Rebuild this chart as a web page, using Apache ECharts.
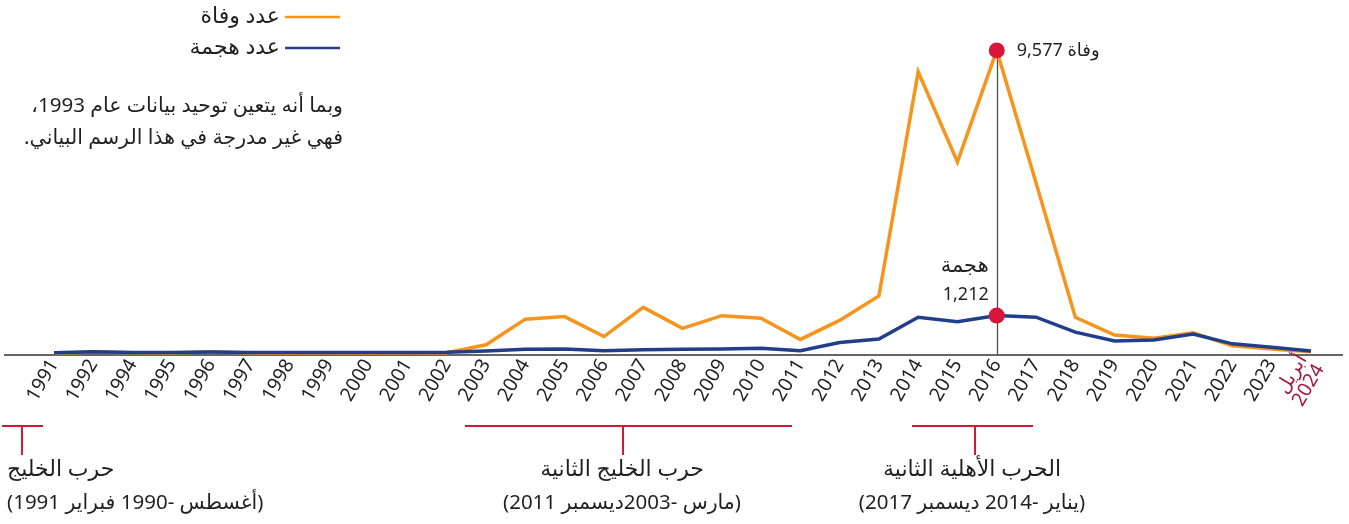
<!DOCTYPE html>
<html lang="ar">
<head>
<meta charset="utf-8">
<script src="https://cdn.jsdelivr.net/npm/echarts@6/dist/echarts.min.js"></script>
<style>
  html, body { margin: 0; padding: 0; background: #ffffff; }
  #chart { width: 1349px; height: 524px; }
</style>
</head>
<body>
<div id="chart" dir="rtl"></div>
<script>
// Years on the x axis (1993 is left out), last entry is the partial year
const categories = ['1991', '1992', '1994', '1995', '1996', '1997', '1998', '1999', '2000', '2001', '2002',
  '2003', '2004', '2005', '2006', '2007', '2008', '2009', '2010', '2011', '2012', '2013',
  '2014', '2015', '2016', '2017', '2018', '2019', '2020', '2021', '2022', '2023', 'أبريل\n2024'];

// Number of deaths per year
const deaths = [20, 60, 40, 30, 70, 30, 20, 30, 20, 30, 40,
  290, 1100, 1180, 550, 1470, 810, 1210, 1130, 460, 1060, 1830,
  8900, 6060, 9577, 5400, 1160, 600, 500, 670, 260, 160, 70];

// Number of attacks per year
const attacks = [40, 70, 50, 50, 60, 50, 50, 50, 50, 50, 55,
  95, 150, 160, 105, 135, 150, 160, 180, 105, 360, 470,
  1160, 1020, 1212, 1160, 690, 410, 440, 630, 320, 210, 95];

const seriesNames = ['عدد وفاة', 'عدد هجمة'];
const highlightYear = '2016';
const noteLines = ['وبما أنه يتعين توحيد بيانات عام 1993،', 'فهي غير مدرجة في هذا الرسم البياني.'];

const FONT = '"Noto Sans", "DejaVu Sans", sans-serif';
const TEXT = '#231f20';
const RED = '#d7163a';
const ORANGE = '#f7941d';
const NAVY = '#213e8a';

const hi = categories.indexOf(highlightYear);

const chart = echarts.init(document.getElementById('chart'), null, { renderer: 'canvas' });

function bracket(x1, x2, xm, title, sub, align, tx) {
  return {
    type: 'group',
    children: [
      { type: 'line', shape: { x1: x1, y1: 426, x2: x2, y2: 426 }, style: { stroke: RED, lineWidth: 2 } },
      { type: 'line', shape: { x1: xm, y1: 426, x2: xm, y2: 455 }, style: { stroke: RED, lineWidth: 2 } },
      { type: 'text', x: tx, y: 470, style: { text: title, fill: TEXT, font: '22px ' + FONT, textAlign: align, textVerticalAlign: 'middle' } },
      { type: 'text', x: tx, y: 503, style: { text: sub, fill: TEXT, font: '20.5px ' + FONT, textAlign: align, textVerticalAlign: 'middle' } }
    ]
  };
}

const option = {
  backgroundColor: '#ffffff',
  animation: false,
  textStyle: { fontFamily: FONT, color: TEXT },
  grid: { left: 54, right: 38, top: 37, bottom: 170, containLabel: false },
  legend: {
    orient: 'vertical',
    align: 'right',
    right: 1004,
    top: 1,
    icon: 'rect',
    itemWidth: 55,
    itemHeight: 2.5,
    itemGap: 9,
    data: seriesNames,
    textStyle: { fontSize: 22, color: TEXT, lineHeight: 22, fontFamily: FONT }
  },
  xAxis: {
    type: 'category',
    data: categories,
    boundaryGap: false,
    axisLine: { show: false },
    axisTick: { show: false },
    axisLabel: {
      interval: 0,
      rotate: 60,
      margin: 7,
      fontSize: 19.5,
      lineHeight: 20,
      fontFamily: FONT,
      color: function (value, index) {
        return index === categories.length - 1 ? '#a6193f' : TEXT;
      }
    },
    splitLine: { show: false }
  },
  yAxis: {
    type: 'value',
    min: 0,
    max: 10000,
    show: false,
    splitLine: { show: false }
  },
  series: [
    {
      name: seriesNames[0],
      type: 'line',
      data: deaths,
      showSymbol: false,
      lineStyle: { color: ORANGE, width: 3.5, join: 'miter' },
      itemStyle: { color: ORANGE },
      z: 2,
      markLine: {
        silent: true,
        symbol: 'none',
        label: { show: false },
        lineStyle: { color: '#4d4d4d', width: 1.3, type: 'solid' },
        data: [[{ coord: [hi, deaths[hi]] }, { coord: [hi, 0] }]],
        z: 1
      },
      markPoint: {
        symbol: 'circle',
        symbolSize: 16,
        itemStyle: { color: RED },
        label: {
          show: true,
          position: 'right',
          distance: 12,
          fontSize: 18,
          color: TEXT,
          fontFamily: FONT,
          formatter: function (p) { return 'وفاة ' + p.value.toLocaleString('en-US'); }
        },
        data: [{ coord: [hi, deaths[hi]], value: deaths[hi] }],
        z: 5
      }
    },
    {
      name: seriesNames[1],
      type: 'line',
      data: attacks,
      showSymbol: false,
      lineStyle: { color: NAVY, width: 3.5, join: 'miter' },
      itemStyle: { color: NAVY },
      z: 3,
      markPoint: {
        symbol: 'circle',
        symbolSize: 16,
        itemStyle: { color: RED },
        label: {
          show: true,
          position: [0, 2],
          align: 'right',
          verticalAlign: 'bottom',
          fontSize: 18,
          lineHeight: 29,
          color: TEXT,
          fontFamily: FONT,
          rich: {
            ar: { fontSize: 21, lineHeight: 29, fontFamily: FONT, color: TEXT }
          },
          formatter: function (p) { return '{ar|هجمة}\n' + p.value.toLocaleString('en-US'); }
        },
        data: [{ coord: [hi, attacks[hi]], value: attacks[hi] }],
        z: 5
      }
    }
  ],
  graphic: [
    {
      type: 'text',
      right: 1006,
      top: 90,
      style: {
        text: noteLines.join('\n'),
        fill: TEXT,
        font: '20.5px ' + FONT,
        lineHeight: 32,
        textAlign: 'right'
      }
    },
    bracket(2, 43, 22, 'حرب الخليج', '(أغسطس -1990 فبراير 1991)', 'left', 7),
    bracket(465, 792, 623, 'حرب الخليج الثانية', '(مارس -2003ديسمبر 2011)', 'center', 622),
    bracket(912, 1033, 975, 'الحرب الأهلية الثانية', '(يناير -2014 ديسمبر 2017)', 'center', 972)
  ]
};

chart.setOption(option);

// Baseline at zero, running the full width of the plot
const y0 = chart.convertToPixel({ yAxisIndex: 0 }, 0);
chart.setOption({
  graphic: option.graphic.concat([
    { type: 'line', z: 0, shape: { x1: 4, y1: y0 + 1, x2: 1343, y2: y0 + 1 }, style: { stroke: '#333333', lineWidth: 1.5 } }
  ])
});
</script>
</body>
</html>
